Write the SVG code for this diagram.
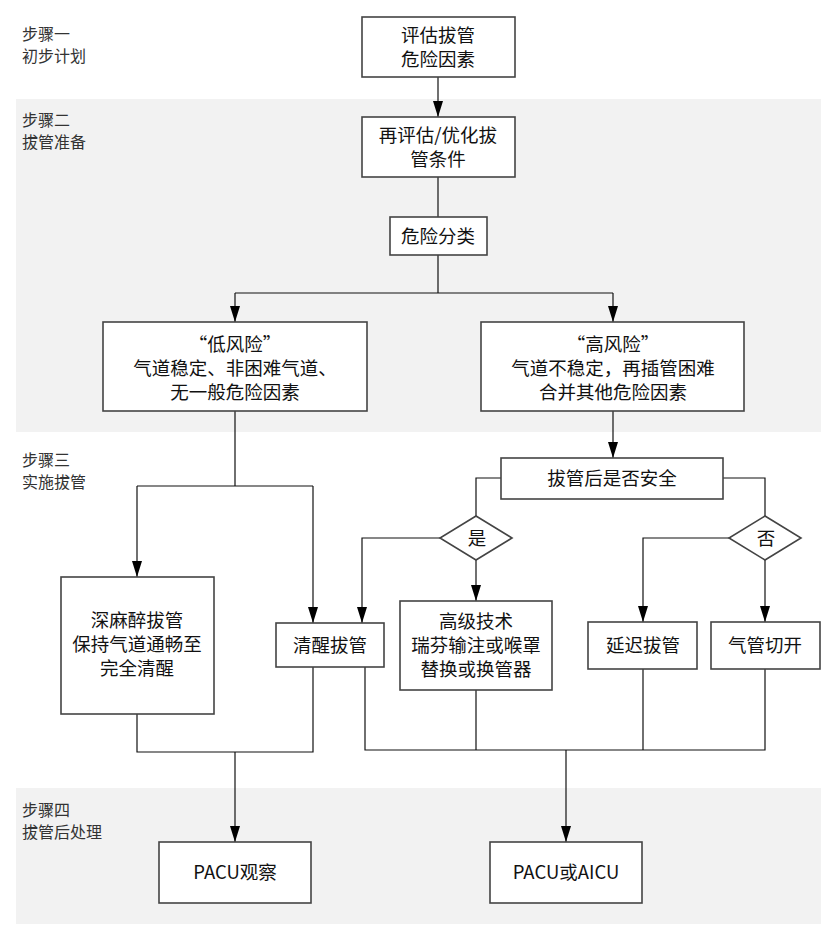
<svg xmlns="http://www.w3.org/2000/svg" width="838" height="938" viewBox="0 0 838 938">
<style>
.band{fill:#f2f2f2;stroke:none}
.box{fill:#fff;stroke:#444;stroke-width:1.6}
.t{font-family:"Noto Sans CJK SC","Liberation Serif",serif;font-size:18.5px;fill:#111;text-anchor:middle}
.lbl{font-family:"Noto Sans CJK SC",sans-serif;font-size:16px;fill:#333}
.c{fill:none;stroke:#111;stroke-width:1.2}
</style>
<defs>
<marker id="a" viewBox="0 0 16 10" refX="16" refY="5" markerWidth="16" markerHeight="10" markerUnits="userSpaceOnUse" orient="auto">
<path d="M0,0 L16,5 L0,10 Z" fill="#000"/>
</marker>
</defs>
<rect class="band" x="16" y="99" width="805" height="333"/>
<rect class="band" x="16" y="788" width="805" height="136"/>
<g id="labels">
<text class="lbl" x="22" y="40">步骤一</text>
<text class="lbl" x="22" y="62">初步计划</text>
<text class="lbl" x="22" y="126">步骤二</text>
<text class="lbl" x="22" y="148">拔管准备</text>
<text class="lbl" x="22" y="466">步骤三</text>
<text class="lbl" x="22" y="488">实施拔管</text>
<text class="lbl" x="22" y="816">步骤四</text>
<text class="lbl" x="22" y="838">拔管后处理</text>
</g>
<g id="connectors">
<path class="c" d="M438,77 V117" marker-end="url(#a)"/>
<path class="c" d="M438,177 V217"/>
<path class="c" d="M438,255 V293 M235,293 H613"/>
<path class="c" d="M235,293 V322" marker-end="url(#a)"/>
<path class="c" d="M613,293 V322" marker-end="url(#a)"/>
<path class="c" d="M613,411 V458" marker-end="url(#a)"/>
<path class="c" d="M501,478 H476 V516"/>
<path class="c" d="M723,478 H765 V516"/>
<path class="c" d="M440,538 H362 V623" marker-end="url(#a)"/>
<path class="c" d="M476,560 V601" marker-end="url(#a)"/>
<path class="c" d="M729,538 H643 V622" marker-end="url(#a)"/>
<path class="c" d="M765,560 V622" marker-end="url(#a)"/>
<path class="c" d="M235,411 V486 M137,486 H313"/>
<path class="c" d="M137,486 V577" marker-end="url(#a)"/>
<path class="c" d="M313,486 V623" marker-end="url(#a)"/>
<path class="c" d="M137,714 V752 H313 V667"/>
<path class="c" d="M235,752 V842" marker-end="url(#a)"/>
<path class="c" d="M365,667 V750 H765 V669 M476,690 V750 M643,669 V750"/>
<path class="c" d="M566,750 V842" marker-end="url(#a)"/>
</g>
<g id="n1"><rect class="box" x="362" y="17" width="153" height="60"/><text class="t" x="438" y="42">评估拔管</text><text class="t" x="438" y="66">危险因素</text></g>
<g id="n2"><rect class="box" x="362" y="117" width="153" height="60"/><text class="t" x="438" y="142">再评估/优化拔</text><text class="t" x="438" y="166">管条件</text></g>
<g id="n3"><rect class="box" x="390" y="217" width="97" height="38"/><text class="t" x="438" y="243">危险分类</text></g>
<g id="n4"><rect class="box" x="103" y="322" width="264" height="89"/><text class="t" x="235" y="351">“低风险”</text><text class="t" x="235" y="375">气道稳定、非困难气道、</text><text class="t" x="235" y="399">无一般危险因素</text></g>
<g id="n5"><rect class="box" x="481" y="322" width="263" height="89"/><text class="t" x="613" y="351">“高风险”</text><text class="t" x="613" y="375">气道不稳定，再插管困难</text><text class="t" x="613" y="399">合并其他危险因素</text></g>
<g id="n6"><rect class="box" x="501" y="458" width="222" height="41"/><text class="t" x="612" y="485">拔管后是否安全</text></g>
<g id="d1"><path class="box" d="M476,516 L512,538 L476,560 L440,538 Z"/><text class="t" x="477" y="545">是</text></g>
<g id="d2"><path class="box" d="M765,516 L801,538 L765,560 L729,538 Z"/><text class="t" x="766" y="545">否</text></g>
<g id="n7"><rect class="box" x="61" y="577" width="153" height="137"/><text class="t" x="137" y="627">深麻醉拔管</text><text class="t" x="137" y="651">保持气道通畅至</text><text class="t" x="137" y="675">完全清醒</text></g>
<g id="n8"><rect class="box" x="276" y="623" width="108" height="44"/><text class="t" x="330" y="652">清醒拔管</text></g>
<g id="n9"><rect class="box" x="400" y="601" width="152" height="89"/><text class="t" x="476" y="628">高级技术</text><text class="t" x="476" y="652">瑞芬输注或喉罩</text><text class="t" x="476" y="676">替换或换管器</text></g>
<g id="n10"><rect class="box" x="588" y="622" width="109" height="47"/><text class="t" x="643" y="652">延迟拔管</text></g>
<g id="n11"><rect class="box" x="711" y="622" width="109" height="47"/><text class="t" x="765" y="652">气管切开</text></g>
<g id="n12"><rect class="box" x="159" y="842" width="152" height="61"/><text class="t" x="235" y="879">PACU观察</text></g>
<g id="n13"><rect class="box" x="490" y="842" width="152" height="61"/><text class="t" x="566" y="879">PACU或AICU</text></g>
</svg>
